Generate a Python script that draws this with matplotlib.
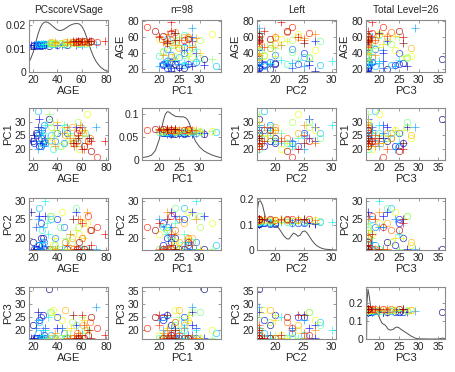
import matplotlib
matplotlib.use('Agg')
import matplotlib.pyplot as plt
import numpy as np

plt.rcParams['font.family'] = ['Liberation Sans', 'DejaVu Sans']

# ---------------- data ----------------
var_names = ['AGE', 'PC1', 'PC2', 'PC3']
titles = ['PCscoreVSage', 'n=98', 'Left', 'Total Level=26']
n_groups = 26

group = [0, 0, 0, 0,
         1, 1, 1, 1,
         2, 2, 2, 2, 2,
         3, 3, 3, 3,
         4, 4, 4, 4,
         5, 5, 5, 5,
         6, 6, 6, 6,
         7, 7, 7, 7,
         8, 8, 8, 8,
         9, 9, 9, 9,
         10, 10, 10, 10,
         11, 11, 11,
         12, 12, 12, 12,
         13, 13, 13,
         14, 14, 14, 14,
         15, 15, 15,
         16, 16, 16, 16,
         17, 17, 17,
         18, 18, 18, 18,
         19, 19, 19, 19,
         20, 20, 20, 20,
         21, 21, 21, 21,
         22, 22, 22,
         23, 23, 23, 23,
         24, 24, 24,
         25, 25, 25]

age = [20, 22, 26, 33,
       18, 24, 27, 21,
       23, 25, 28, 48, 29,
       25, 30, 40, 55,
       21, 27, 40, 26,
       22, 26, 44, 60,
       29, 38, 45, 30,
       28, 24, 72, 26,
       24, 25, 35, 58,
       30, 32, 66, 28,
       36, 27, 63, 46,
       31, 45, 50,
       42, 34, 55, 38,
       33, 47, 60,
       35, 43, 57, 52,
       37, 55, 48,
       44, 58, 64, 36,
       40, 62, 51,
       46, 61, 52, 35,
       50, 59, 38, 64,
       53, 60, 67, 56,
       54, 57, 62, 48,
       65, 56, 73,
       55, 79, 68, 60,
       68, 62, 58,
       53, 66, 57]

pc1 = [23, 26, 24, 31,
       23, 28, 22, 25,
       25, 21, 22, 26, 23,
       31, 24, 29, 28,
       22, 27, 26, 21,
       23, 27, 26, 28,
       29, 23, 22, 22,
       21, 20, 28, 25,
       34, 26, 25, 22,
       29, 22, 24, 26,
       20, 22, 26, 28,
       24, 29, 26,
       21, 30, 24, 26,
       33, 23, 25,
       28, 21, 30, 24,
       27, 22, 25,
       27, 20, 33, 24,
       30, 27, 22,
       25, 26, 28, 23,
       24, 29, 21, 22,
       22, 27, 24, 23,
       21, 25, 20, 28,
       23, 26, 17,
       22, 23, 23, 20,
       19, 21, 27,
       22, 24, 24]

pc2 = [19, 17, 20, 17,
       27, 17, 17, 17,
       17, 18, 20, 17, 17,
       26, 26, 17, 27,
       17, 18, 25, 24,
       23, 19, 17, 17,
       19, 20, 23, 17,
       23, 25, 17, 17,
       18, 28, 25, 17,
       30, 21, 17, 19,
       17, 22, 17, 19,
       24, 17, 21,
       23, 26, 28, 18,
       17, 20, 17,
       26, 17, 23, 19,
       20, 22, 17,
       27, 21, 24, 18,
       17, 20, 17,
       19, 24, 20, 17,
       21, 25, 17, 27,
       17, 20, 22, 17,
       17, 25, 17, 18,
       26, 17, 23,
       17, 21, 18, 24,
       22, 17, 19,
       25, 17, 17]

pc3 = [22, 17, 17, 36,
       17, 27, 17, 17,
       17, 24, 26, 17, 18,
       17, 21, 21, 22,
       17, 17, 25, 25,
       21, 18, 21, 18,
       17, 17, 19, 17,
       20, 24, 29, 17,
       19, 23, 18, 17,
       20, 25, 17, 17,
       17, 17, 20, 17,
       17, 17, 18,
       17, 27, 22, 17,
       17, 18, 25,
       27, 17, 17, 23,
       26, 17, 20,
       24, 18, 20, 28,
       17, 24, 21,
       28, 22, 17, 17,
       17, 17, 19, 20,
       17, 17, 23, 19,
       17, 19, 22, 17,
       18, 17, 21,
       17, 18, 17, 26,
       25, 17, 17,
       26, 20, 17]

# density curves
age_dens_x = [16.5, 18, 20, 22, 24, 26, 28, 30, 32, 34, 36, 38, 40, 42, 44, 46,
              48, 50, 52, 54, 56, 58, 60, 62, 64, 66, 68, 70, 72, 74, 76, 78, 80, 81.7]
age_dens_y = [0.0042, 0.0058, 0.0085, 0.0125, 0.0163, 0.0192, 0.0208, 0.0214, 0.0212,
              0.0205, 0.0196, 0.0187, 0.0180, 0.0177, 0.0179, 0.0184, 0.0191, 0.0198,
              0.0203, 0.0206, 0.0207, 0.0205, 0.0196, 0.0177, 0.0150, 0.0118, 0.0088,
              0.0063, 0.0044, 0.0030, 0.0019, 0.0011, 0.0006, 0.0003]

pc1_dens_x = [15.7, 17, 18, 19, 20, 20.5, 21, 21.5, 22, 22.5, 23, 24, 25, 26, 26.5,
              27, 27.5, 28, 28.5, 29, 30, 31, 32, 33, 34, 35.3]
pc1_dens_y = [0.005, 0.007, 0.010, 0.020, 0.045, 0.065, 0.085, 0.099, 0.104, 0.103,
              0.099, 0.094, 0.093, 0.093, 0.091, 0.087, 0.078, 0.064, 0.050, 0.040,
              0.028, 0.020, 0.015, 0.011, 0.008, 0.005]

pc2_dens_x = [16.7, 17.0, 17.3, 17.7, 18.2, 18.7, 19.2, 20.0, 20.5, 21.0, 21.5, 22.0,
              22.4, 22.8, 23.2, 23.6, 24.0, 24.4, 24.8, 25.2, 25.6, 26.0, 26.5, 27.0,
              27.5, 28.0, 28.5, 29.0, 30.0, 30.8]
pc2_dens_y = [0.150, 0.190, 0.193, 0.175, 0.128, 0.112, 0.106, 0.098, 0.088, 0.072,
              0.055, 0.044, 0.043, 0.055, 0.066, 0.062, 0.054, 0.058, 0.072, 0.075,
              0.068, 0.055, 0.038, 0.024, 0.015, 0.009, 0.005, 0.003, 0.001, 0.0]

pc3_dens_x = [16.75, 16.85, 17.1, 17.4, 17.8, 18.2, 18.6, 19.0, 19.4, 19.8, 20.2, 20.6,
              21.0, 21.4, 21.8, 22.2, 22.6, 23.0, 23.5, 24.0, 24.5, 25.0, 25.5, 26.0,
              27.0, 28.0, 29.0, 29.5, 30.0, 33.0, 35.0, 35.5, 36.0, 36.6]
pc3_dens_y = [0.0, 0.20, 0.275, 0.24, 0.175, 0.150, 0.140, 0.138, 0.142, 0.130, 0.108,
              0.090, 0.082, 0.078, 0.068, 0.055, 0.050, 0.050, 0.053, 0.062, 0.066,
              0.062, 0.053, 0.046, 0.032, 0.017, 0.006, 0.003, 0.001, 0.0, 0.0, 0.002,
              0.005, 0.003]

# ---------------- styling ----------------
lims = {'AGE': (16.5, 81.7), 'PC1': (15.7, 35.3), 'PC2': (16.7, 30.8), 'PC3': (16.6, 36.7)}
ticks = {'AGE': [20, 40, 60, 80], 'PC1': [20, 25, 30], 'PC2': [20, 25, 30], 'PC3': [20, 25, 30, 35]}
diag_ylim = {'AGE': (0, 0.0222), 'PC1': (0, 0.112), 'PC2': (0, 0.204), 'PC3': (0, 0.287)}
diag_yticks = {'AGE': ([0, 0.01, 0.02], ['0', '0.01', '0.02']),
               'PC1': ([0, 0.05, 0.1], ['0', '0.05', '0.1']),
               'PC2': ([0, 0.1, 0.2], ['0', '0.1', '0.2']),
               'PC3': ([0, 0.1, 0.2], ['0', '0.1', '0.2'])}
diag_levels = {'AGE': (0.0113, 0.0132), 'PC1': (0.0565, 0.0665), 'PC2': (0.103, 0.123), 'PC3': (0.147, 0.167)}

data = {'AGE': np.array(age, float), 'PC1': np.array(pc1, float),
        'PC2': np.array(pc2, float), 'PC3': np.array(pc3, float)}
dens = {'AGE': (age_dens_x, age_dens_y), 'PC1': (pc1_dens_x, pc1_dens_y),
        'PC2': (pc2_dens_x, pc2_dens_y), 'PC3': (pc3_dens_x, pc3_dens_y)}
grp = np.array(group)
cmap = plt.get_cmap('jet')
colors = [cmap(i / (n_groups - 1)) for i in range(n_groups)]
markers = ['o', '+']
msizes = {'o': 4.6, '+': 5.2}

W, H = 455, 372
fig = plt.figure(figsize=(W / 100, H / 100), dpi=100)
col_left = [29, 142, 257, 366]
row_top = [20, 108, 198, 287]
aw, ah = 79, 52

text_col = '#262626'
edge_col = '#8a8a8a'

for r, vy in enumerate(var_names):
    for c, vx in enumerate(var_names):
        ax = fig.add_axes([col_left[c] / W, 1 - (row_top[r] + ah) / H, aw / W, ah / H])
        for s in ax.spines.values():
            s.set_color(edge_col)
            s.set_linewidth(0.8)
        ax.tick_params(direction='in', length=2, width=0.6, colors=edge_col,
                       labelcolor=text_col, labelsize=7.5, pad=2,
                       top=True, right=True)
        if r == c:
            dx, dy = dens[vx]
            ax.plot(dx, dy, color='#505050', lw=0.7, zorder=1)
            lo, hi = diag_levels[vx]
            for g in range(n_groups):
                m = grp == g
                yv = lo + (hi - lo) * g / (n_groups - 1)
                mk = markers[g % 2]
                ax.plot(data[vx][m], np.full(m.sum(), yv), linestyle='none',
                        marker=mk, ms=msizes[mk], mew=0.5, mfc='none',
                        color=colors[g], alpha=0.85, zorder=2)
            ax.set_ylim(*diag_ylim[vx])
            ax.set_yticks(diag_yticks[vx][0])
            ax.set_yticklabels(diag_yticks[vx][1])
        else:
            for g in range(n_groups):
                m = grp == g
                mk = markers[g % 2]
                ax.plot(data[vx][m], data[vy][m], linestyle='none',
                        marker=mk, ms=msizes[mk], mew=0.5, mfc='none',
                        color=colors[g], alpha=0.85)
            ax.set_ylim(*lims[vy])
            ax.set_yticks(ticks[vy])
            ax.set_ylabel(vy, fontsize=8, color=text_col, labelpad=1)
        ax.set_xlim(*lims[vx])
        ax.set_xticks(ticks[vx])
        ax.set_xlabel(vx, fontsize=8, color=text_col, labelpad=1)
        ax.minorticks_off()
        if r == 0:
            ax.set_title(titles[c], fontsize=7.3, color=text_col, pad=5)

fig.savefig('out.png', dpi=100)
